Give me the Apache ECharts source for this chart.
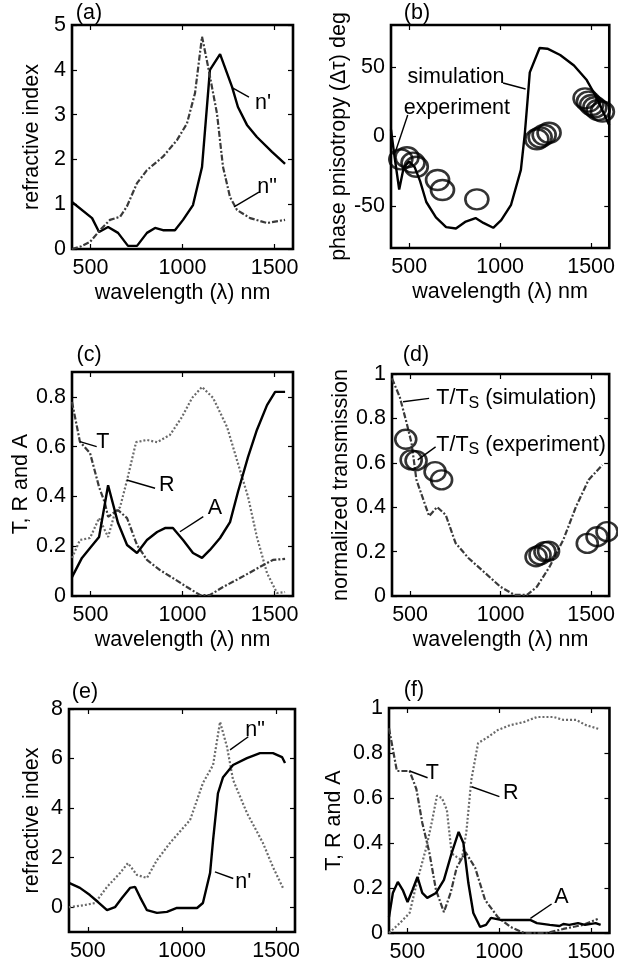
<!DOCTYPE html>
<html><head><meta charset="utf-8">
<script src="https://cdn.jsdelivr.net/npm/echarts@6/dist/echarts.min.js"></script>
<style>html,body{margin:0;padding:0;background:#fff}#c{width:618px;height:963px}</style>
</head><body><div id="c"></div>
<script>
// ---------- DATA ----------
// (a) refractive index
const aX_nReal = [400,509,547,596,650,704,753,807,851,894,959,1003,1057,1106,1149,1204,1269,1301,1350,1404,1486,1557];
const aY_nReal = [1.05,0.69,0.38,0.49,0.36,0.07,0.07,0.36,0.47,0.42,0.42,0.65,0.98,1.83,4.0,4.35,3.62,3.17,2.77,2.5,2.17,1.9];
const aX_nImag = [400,450,498,552,606,661,698,753,807,894,970,1024,1068,1106,1139,1187,1220,1258,1296,1367,1459,1557];
const aY_nImag = [0.0,0.06,0.16,0.42,0.65,0.72,0.95,1.47,1.76,2.06,2.43,2.8,3.48,4.74,4.07,3.03,1.83,1.16,0.87,0.69,0.58,0.65];
// (b) phase anisotropy
const bX_sim = [400,420,445,470,500,530,560,594,647,703,757,811,865,908,962,1006,1060,1114,1136,1152,1163,1217,1260,1330,1406,1476,1530,1600];
const bY_sim = [5,-15,-38,-22,-18,-22,-32,-47,-58,-65,-66,-61,-58.5,-62,-65.5,-60,-49,-24,2.5,28,46,63.5,63,58.5,51,40.5,28,8];
const bX_exp = [454,488,521,539,656,683,872,1202,1220,1242,1269,1467,1485,1503,1521,1539,1562];
const bY_exp = [-16.4,-14.9,-18.8,-21.7,-31.2,-38.4,-45.1,-2.0,-0.6,1.1,2.7,27.4,25,22.6,21,19,17.8];
// (c) T, R, A
const cX_A = [400,454,498,547,596,650,699,753,807,862,905,948,1003,1057,1106,1149,1204,1258,1301,1356,1404,1459,1503,1557];
const cY_A = [0.076,0.153,0.193,0.237,0.445,0.293,0.205,0.173,0.225,0.257,0.273,0.273,0.225,0.173,0.153,0.185,0.233,0.297,0.418,0.559,0.667,0.767,0.82,0.82];
const cX_T = [400,443,498,547,579,596,623,650,699,753,807,878,948,1024,1095,1149,1220,1312,1421,1491,1557];
const cY_T = [0.78,0.62,0.574,0.438,0.373,0.318,0.333,0.345,0.313,0.205,0.145,0.104,0.072,0.036,0.004,0.004,0.036,0.072,0.117,0.145,0.149];
const cX_R = [400,443,498,547,596,634,661,699,748,807,862,932,997,1052,1106,1166,1242,1312,1356,1404,1459,1513,1557];
const cY_R = [0.153,0.225,0.233,0.313,0.237,0.337,0.357,0.466,0.618,0.627,0.618,0.647,0.719,0.796,0.84,0.796,0.679,0.506,0.398,0.237,0.092,0.012,0.016];
// (d) normalized transmission
const dX_sim = [400,443,481,508,535,568,605,649,697,751,822,914,1000,1076,1146,1200,1270,1346,1416,1486,1562];
const dY_sim = [0.98,0.896,0.779,0.689,0.523,0.446,0.36,0.401,0.365,0.239,0.171,0.104,0.041,0.005,0.005,0.041,0.131,0.252,0.401,0.523,0.59];
const dX_exp = [476,506,533,638,674,1196,1218,1245,1265,1479,1533,1588];
const dY_exp = [0.706,0.613,0.61,0.56,0.523,0.177,0.185,0.2,0.202,0.237,0.267,0.29];
// (e) refractive index
const eX_nReal = [400,458,511,554,602,644,681,724,751,777,814,867,920,973,1026,1080,1111,1149,1165,1191,1218,1271,1345,1414,1483,1531,1547];
const eY_nReal = [0.98,0.78,0.49,0.21,-0.12,0.0,0.37,0.78,0.82,0.41,-0.12,-0.23,-0.19,-0.03,-0.03,-0.03,0.17,1.38,2.71,4.6,5.25,5.74,6.02,6.22,6.22,6.06,5.82];
const eX_nImag = [400,485,538,602,671,713,761,814,867,936,1043,1111,1165,1202,1239,1271,1345,1430,1483,1536];
const eY_nImag = [0.0,0.09,0.17,0.82,1.38,1.78,1.3,1.18,1.9,2.59,3.52,5.01,5.74,7.48,6.47,5.14,3.8,2.59,1.62,0.78];
// (f) T, R, A
const fX_T = [400,443,512,549,581,619,656,699,736,768,816,869,923,992,1061,1136,1259,1349,1456,1536];
const fY_T = [0.91,0.72,0.72,0.64,0.49,0.36,0.19,0.093,0.18,0.29,0.36,0.29,0.147,0.071,0.027,0,0,0.018,0.036,0.062];
const fX_R = [400,459,512,555,603,635,661,688,715,741,768,795,821,848,885,939,992,1061,1136,1205,1296,1349,1419,1472,1541];
const fY_R = [0,0.044,0.089,0.236,0.38,0.5,0.61,0.6,0.547,0.354,0.338,0.324,0.448,0.68,0.844,0.871,0.902,0.924,0.938,0.96,0.96,0.947,0.947,0.924,0.907];
const fX_A = [400,421,448,475,501,528,555,581,608,656,699,741,779,805,832,859,896,928,955,1008,1099,1168,1205,1275,1328,1349,1381,1429,1467,1525,1552];
const fY_A = [0.071,0.178,0.227,0.191,0.138,0.191,0.249,0.178,0.156,0.178,0.236,0.355,0.449,0.4,0.222,0.089,0.027,0.036,0.067,0.058,0.058,0.058,0.044,0.036,0.031,0.04,0.036,0.044,0.036,0.044,0.036];

// tick labels
const xTicks = [500,1000,1500];
const aYTicks = [0,1,2,3,4,5];
const bYTicks = [-50,0,50];
const cYTicks = [0,0.2,0.4,0.6,0.8];
const dYTicks = [0,0.2,0.4,0.6,0.8,1];
const eYTicks = [0,2,4,6,8];
const fYTicks = [0,0.2,0.4,0.6,0.8,1];

// annotations (data coordinates): text label centres and leader lines
const aLabels = [["n'",1437,3.26],["n\"",1459,1.38]];
const aLeaders = [[1274,3.59,1361,3.39],[1280,0.94,1415,1.27]];
const bLabels = [["simulation",757,42.7],["experiment",762,20.4]];
const bLeaders = [[1016,38.4,1140,34.1],[492,15.4,422,-11.8]];
const cLabels = [["T",568,0.62],["R",914,0.446],["A",1176,0.352]];
const cLeaders = [[443,0.62,534,0.60],[697,0.466,851,0.433],[986,0.258,1113,0.319]];
const dLabels = [["T/T{s|S} (simulation)",642,0.89],["T/T{s|S} (experiment)",642,0.68]];
const dLeaders = [[461,0.875,605,0.89],[542,0.613,641,0.672]];
const eLabels = [["n\"",1388,7.15],["n'",1326,1.03]];
const eLeaders = [[1255,6.35,1352,6.88],[1175,1.43,1272,1.16]];
const fLabels = [["T",636,0.71],["R",1063,0.62],["A",1339,0.159]];
const fLeaders = [[512,0.72,610,0.69],[850,0.65,1001,0.606],[1170,0.065,1285,0.129]];

// ---------- CHART ----------
const FONT = 'Liberation Sans, Arial, Helvetica, sans-serif';
const FS = 21.5;
const zip = (xs, ys) => xs.map((x, i) => [x, ys[i]]);

const panels = [
  {tag:'(a)', tagPos:[89,13], grid:{left:72,top:25,width:221,height:224}, ymin:0, ymax:5, yt:aYTicks, yname:'refractive index', ygap:29, xname:true, labels:aLabels, leaders:aLeaders, labelAlign:'center'},
  {tag:'(b)', tagPos:[417,13], grid:{left:391,top:25,width:222,height:223}, ymin:-80, ymax:80, yt:bYTicks, yname:'phase pnisotropy (\u0394\u03c4) deg', ygap:34, xname:true, labels:bLabels, leaders:bLeaders, labelAlign:'center'},
  {tag:'(c)', tagPos:[89,355], grid:{left:72,top:372,width:221,height:224}, ymin:0, ymax:0.9, yt:cYTicks, yname:'T, R and A', ygap:40, xname:true, labels:cLabels, leaders:cLeaders, labelAlign:'center'},
  {tag:'(d)', tagPos:[416,355], grid:{left:392,top:374,width:222,height:222}, ymin:0, ymax:1, yt:dYTicks, yname:'normalized transmission', ygap:35, xname:true, labels:dLabels, leaders:dLeaders, labelAlign:'left'},
  {tag:'(e)', tagPos:[85,692], grid:{left:69,top:709,width:226,height:223}, ymin:-1, ymax:8, yt:eYTicks, yname:'refractive index', ygap:26, xname:false, labels:eLabels, leaders:eLeaders, labelAlign:'center'},
  {tag:'(f)', tagPos:[414,690], grid:{left:389,top:708,width:225,height:225}, ymin:0, ymax:1, yt:fYTicks, yname:'T, R and A', ygap:44, xname:false, labels:fLabels, leaders:fLeaders, labelAlign:'center'}
];

const SOLID = {color:'#000', width:2.4, type:'solid'};
const DASHDOT = {color:'#3a3a3a', width:2.2, type:[6,2,2,2]};
const DOTTED = {color:'#6a6a6a', width:2.2, type:[2,2]};

const seriesDefs = [
  [ {x:aX_nReal, y:aY_nReal, ls:SOLID}, {x:aX_nImag, y:aY_nImag, ls:DASHDOT} ],
  [ {x:bX_sim, y:bY_sim, ls:SOLID}, {x:bX_exp, y:bY_exp, scatter:true, size:[23,20]} ],
  [ {x:cX_R, y:cY_R, ls:DOTTED}, {x:cX_T, y:cY_T, ls:DASHDOT}, {x:cX_A, y:cY_A, ls:SOLID} ],
  [ {x:dX_sim, y:dY_sim, ls:DASHDOT}, {x:dX_exp, y:dY_exp, scatter:true, size:[21,19]} ],
  [ {x:eX_nImag, y:eY_nImag, ls:DOTTED}, {x:eX_nReal, y:eY_nReal, ls:SOLID} ],
  [ {x:fX_R, y:fY_R, ls:DOTTED}, {x:fX_T, y:fY_T, ls:DASHDOT}, {x:fX_A, y:fY_A, ls:SOLID} ]
];

const grid = [], xAxis = [], yAxis = [], series = [], graphic = [];
const txt = {color:'#000', fontSize:FS, fontFamily:FONT};
const fmtNum = v => String(Math.round(v*10)/10);

panels.forEach((p, i) => {
  grid.push(Object.assign({show:true, borderColor:'#000', borderWidth:2.6, backgroundColor:'#fff'}, p.grid));
  const tick = vals => ({show:true, inside:true, length:5, customValues:vals, lineStyle:{color:'#000', width:1.2}});
  const noLine = {show:false, onZero:false};
  xAxis.push({gridIndex:i, type:'value', min:400, max:1600, position:'bottom',
    axisLine:noLine, splitLine:{show:false}, axisTick:tick(xTicks),
    axisLabel:Object.assign({customValues:xTicks, margin:8, formatter:fmtNum}, txt),
    name: p.xname ? 'wavelength (\u03bb) nm' : '', nameLocation:'middle', nameGap:33, nameTextStyle:txt});
  xAxis.push({gridIndex:i, type:'value', min:400, max:1600, position:'top',
    axisLine:noLine, splitLine:{show:false}, axisTick:tick(xTicks), axisLabel:{show:false}});
  yAxis.push({gridIndex:i, type:'value', min:p.ymin, max:p.ymax, position:'left',
    axisLine:noLine, splitLine:{show:false}, axisTick:tick(p.yt),
    axisLabel:Object.assign({customValues:p.yt, margin:6, formatter:fmtNum}, txt),
    name:p.yname, nameLocation:'middle', nameRotate:90, nameGap:p.ygap, nameTextStyle:txt});
  yAxis.push({gridIndex:i, type:'value', min:p.ymin, max:p.ymax, position:'right',
    axisLine:noLine, splitLine:{show:false}, axisTick:tick(p.yt), axisLabel:{show:false}});

  seriesDefs[i].forEach((s, k) => {
    const base = {xAxisIndex:2*i, yAxisIndex:2*i, data:zip(s.x, s.y), silent:true, animation:false, z:3};
    if (s.scatter) {
      Object.assign(base, {type:'scatter', symbol:'circle', symbolSize:s.size,
        itemStyle:{color:'rgba(0,0,0,0)', borderColor:'#000', borderWidth:2.5}});
    } else {
      Object.assign(base, {type:'line', showSymbol:false, symbol:'none', lineStyle:s.ls});
    }
    if (k === 0) {
      base.markLine = {silent:true, animation:false, symbol:['none','none'],
        lineStyle:{color:'#000', width:1.4, type:'solid'}, label:{show:false},
        data:p.leaders.map(l => [{coord:[l[0], l[1]]}, {coord:[l[2], l[3]]}])};
      base.markPoint = {silent:true, animation:false, symbol:'rect', symbolSize:1,
        itemStyle:{color:'rgba(0,0,0,0)'},
        data:p.labels.map(l => ({coord:[l[1], l[2]],
          label:Object.assign({show:true, position:p.labelAlign === 'left' ? 'right' : 'inside', distance:0,
            formatter:l[0], rich:{s:{fontSize:16, fontFamily:FONT, color:'#000', padding:[10,0,0,0]}}}, txt)}))};
    }
    series.push(base);
  });

  graphic.push({type:'text', x:p.tagPos[0], y:p.tagPos[1], style:{text:p.tag, fill:'#000', font:FS + 'px ' + FONT, textAlign:'center', textVerticalAlign:'middle'}});
});

const chart = echarts.init(document.getElementById('c'), null, {renderer:'canvas'});
chart.setOption({animation:false, backgroundColor:'#fff', grid, xAxis, yAxis, series, graphic});
</script>
</body></html>
